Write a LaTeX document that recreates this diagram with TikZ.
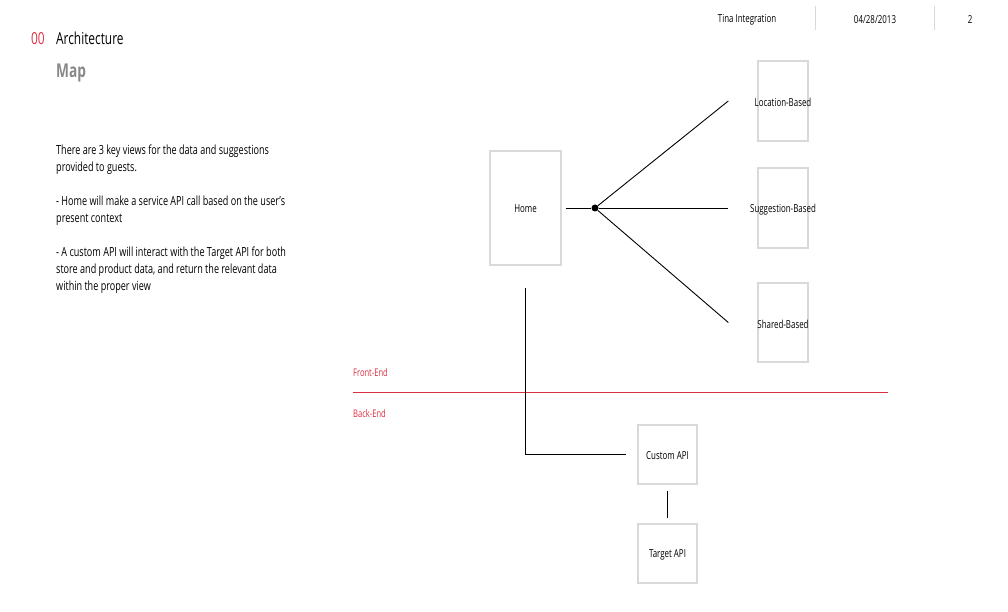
\documentclass[tikz,border=0pt]{standalone}
\usepackage{fontspec}
\setmainfont{Open Sans}[FakeStretch=0.72]
\usetikzlibrary{positioning}
\definecolor{accent}{RGB}{221,45,64}
\definecolor{boxline}{RGB}{217,217,217}
\definecolor{subtitle}{RGB}{136,136,136}

\begin{document}
\begin{tikzpicture}[x=1pt,y=-1pt,
    viewbox/.style={draw=boxline,line width=1.4pt,inner sep=0pt},
    lbl/.style={font=\fontsize{11}{13}\selectfont,inner sep=0pt},
    link/.style={line width=0.9pt},
    band/.style={accent,font=\fontsize{10.5}{12}\selectfont,anchor=west,inner sep=0pt}]
  \useasboundingbox (0,0) rectangle (1008,612);

  % header
  \node[lbl] (proj) at (747,20) {Tina Integration};
  \node[lbl] (date) at (875,20) {04/28/2013};
  \node[lbl] (page) at (970,20) {2};
  \draw[boxline,line width=1pt] (815,6) -- (815,30) (934,6) -- (934,30);

  % title
  \node[accent,anchor=base west,inner sep=0pt,font=\fontsize{16.5}{18}\selectfont] (num) at (31,45) {00};
  \node[anchor=base west,inner sep=0pt,font=\fontsize{16.5}{18}\selectfont] (title) at (56,45) {Architecture};
  \node[subtitle,anchor=base west,inner sep=0pt,font=\fontsize{19}{20}\bfseries] (sub) at (56,78) {Map};

  % notes
  \node[anchor=north west,inner sep=0pt,align=left,font=\fontsize{12.6}{17}\selectfont] (notes) at (56,145)
    {There are 3 key views for the data and suggestions\\
     provided to guests.\\[17pt]
     - Home will make a service API call based on the user's\\
     present context\\[17pt]
     - A custom API will interact with the Target API for both\\
     store and product data, and return the relevant data\\
     within the proper view};

  % views
  \node[viewbox,minimum width=71pt,minimum height=114pt,label={[lbl,yshift=-1pt]center:Home}] (home) at (525.5,208) {};
  \node[viewbox,minimum width=50pt,minimum height=80pt,label={[lbl,yshift=-1pt]center:Location-Based}] (loc) at (783,101) {};
  \node[viewbox,minimum width=50pt,minimum height=80pt,label={[lbl,yshift=-2pt]center:Suggestion-Based}] (sugg) at (783,208) {};
  \node[viewbox,minimum width=50pt,minimum height=79pt,label={[lbl,yshift=-2pt]center:Shared-Based}] (shared) at (783,322.5) {};

  \node[fill,circle,inner sep=0pt,minimum size=7pt] (hub) at (595,208) {};
  \draw[link] ([xshift=4pt]home.east) -- (hub);
  \draw[link] (hub) -- ([xshift=-29pt]sugg.west);
  \draw[link] (hub) -- ([xshift=-29pt]loc.west);
  \draw[link] (hub) -- ([xshift=-29pt]shared.west);

  % front / back split
  \draw[accent,line width=0.9pt] (353,392) coordinate (splitL) -- (888,392) coordinate (splitR);
  \node[band] (front) at (353,373) {Front-End};
  \node[band] (back) at (353,414) {Back-End};

  % services
  \node[viewbox,minimum width=59pt,minimum height=59pt,label={[lbl,yshift=-1pt]center:Custom API}] (custom) at (667.5,454.5) {};
  \node[viewbox,minimum width=59pt,minimum height=59pt,label={[lbl,yshift=-1pt]center:Target API}] (target) at (667.5,553.5) {};

  \draw[link] ([yshift=-22pt]home.south) |- ([xshift=-11pt]custom.west);
  \draw[link] ([yshift=-6pt]custom.south) -- ([yshift=5pt]target.north);
\end{tikzpicture}
\end{document}
